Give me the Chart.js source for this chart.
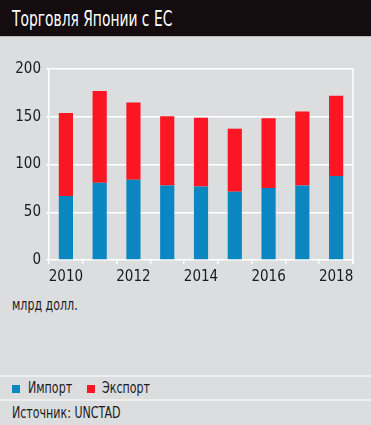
<!DOCTYPE html>
<html lang="ru">
<head>
<meta charset="utf-8">
<script src="https://cdn.jsdelivr.net/npm/chart.js@4.4.1/dist/chart.umd.min.js"></script>
<style>
  html, body { margin: 0; padding: 0; }
  body {
    width: 371px; height: 425px; position: relative; overflow: hidden;
    background: #dcdddf; color: #1b1b1b;
    font-family: 'Liberation Sans Narrow', 'DejaVu Sans Condensed', 'Roboto', sans-serif;
  }
  .narrow { display: inline-block; transform-origin: left center; transform: scaleX(0.82); white-space: nowrap; }
  .title {
    position: absolute; left: 0; top: 0; width: 371px; height: 37px;
    background: #140c0e; color: #fff; border-bottom: 1px solid #b9b9b9;
    font-size: 22px; line-height: 37px; padding-left: 12px; box-sizing: border-box;
  }
  .title .narrow { transform: scaleX(0.7); }
  #chartBox { position: absolute; left: 0; top: 38px; width: 371px; height: 252px; }
  .unit { position: absolute; left: 12px; top: 296px; font-size: 15px; }
  .legend {
    position: absolute; left: 0; top: 375px; width: 371px; height: 26px;
    border-top: 2px solid #eeeeee; border-bottom: 2px solid #eeeeee;
    box-sizing: border-box; font-size: 15px; line-height: 23px;
  }
  .legend .sw { position: absolute; top: 8px; width: 8px; height: 8px; }
  .legend .lbl { position: absolute; top: 0; }
  .source { position: absolute; left: 12px; top: 403px; font-size: 15px; line-height: 20px; }
</style>
</head>
<body>
<div class="title"><span class="narrow">Торговля Японии с ЕС</span></div>
<div id="chartBox"><canvas id="chart"></canvas></div>
<div class="unit"><span class="narrow">млрд долл.</span></div>
<div class="legend">
  <span class="sw" style="left:12px;background:#0a87c0"></span><span class="lbl narrow" style="left:28px">Импорт</span>
  <span class="sw" style="left:87px;background:#fa1622"></span><span class="lbl narrow" style="left:102px">Экспорт</span>
</div>
<div class="source"><span class="narrow">Источник: UNCTAD</span></div>
<script>
'use strict';

// ── Data ────────────────────────────────────────────────────
const years   = ['2010', '2011', '2012', '2013', '2014', '2015', '2016', '2017', '2018'];
const imports = [67, 81, 84, 78, 77, 71.5, 75.5, 78, 88];
const exports = [87, 96, 81, 72.5, 72, 66, 73, 77.5, 84];
const yTicks  = [0, 50, 100, 150, 200];

const FONT = "'Liberation Sans Narrow', 'DejaVu Sans Condensed', 'Roboto', sans-serif";

// right border line of the plot
const rightBorder = {
  id: 'rightBorder',
  afterDraw(chart) {
    const { ctx, chartArea } = chart;
    ctx.save();
    ctx.strokeStyle = '#ffffff';
    ctx.lineWidth = 1.5;
    ctx.beginPath();
    ctx.moveTo(chartArea.right, chartArea.top);
    ctx.lineTo(chartArea.right, chartArea.bottom + 4);
    ctx.stroke();
    ctx.restore();
  }
};

new Chart(document.getElementById('chart').getContext('2d'), {
  type: 'bar',
  data: {
    labels: years,
    datasets: [
      { label: 'Импорт', data: imports, backgroundColor: '#0a87c0' },
      { label: 'Экспорт', data: exports, backgroundColor: '#fa1622' },
    ]
  },
  options: {
    responsive: true,
    maintainAspectRatio: false,
    animation: false,
    layout: { padding: { left: 0, right: 18, top: 31, bottom: 0 } },
    datasets: { bar: { categoryPercentage: 1, barPercentage: 0.42 } },
    scales: {
      x: {
        stacked: true,
        offset: true,
        afterFit: s => { s.height = 30; },
        grid: { display: true, drawOnChartArea: false, drawTicks: true, tickLength: 4, color: '#ffffff', lineWidth: 1.5, offset: true },
        border: { display: false },
        ticks: {
          color: '#1b1b1b', font: { family: FONT, size: 15 }, padding: 4,
          maxRotation: 0, autoSkip: false,
          callback: (v, i) => (i % 2 === 0 ? years[i] : '')
        }
      },
      y: {
        stacked: true,
        min: 0, max: 200,
        afterFit: s => { s.width = 49; },
        afterBuildTicks: s => { s.ticks = yTicks.map(v => ({ value: v })); },
        grid: { color: '#ffffff', lineWidth: 1.5, tickLength: 3 },
        border: { display: true, color: '#ffffff', width: 1.5 },
        ticks: { color: '#1b1b1b', font: { family: FONT, size: 15 }, padding: 5 }
      }
    },
    plugins: {
      legend: { display: false },
      tooltip: { enabled: false }
    }
  },
  plugins: [rightBorder]
});
</script>
</body>
</html>
